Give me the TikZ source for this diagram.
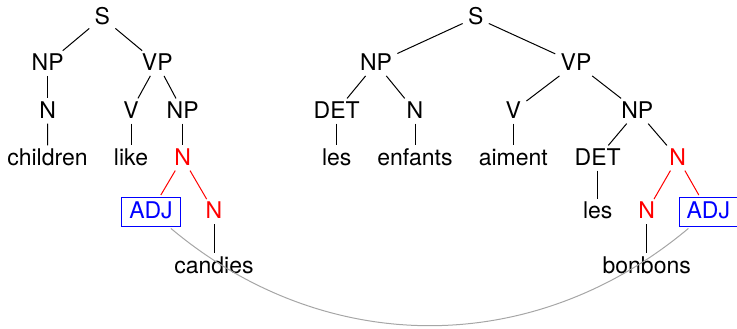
\documentclass[tikz,border=0pt]{standalone}
\usepackage{fontspec}
\setmainfont{TeX Gyre Heros}
\begin{document}
\begin{tikzpicture}[x=0.5pt,y=-0.5pt,
  every node/.style={font=\fontsize{11.5}{13}\selectfont, text height=0.72em, text depth=0pt, inner sep=2.5pt},
  hl/.style={text=red},
  adjbox/.style={draw=blue, text=blue, inner sep=3.75pt, outer sep=1pt, line width=0.5pt},
  tree/.style={line width=0.5pt},
  redtree/.style={tree, draw=red},
  link/.style={draw=black!35, line width=0.5pt}]
\useasboundingbox (0,0) rectangle (737,328);

% English tree
\node (lS)    at (102.3,17.5) {S};
\node (lNP)   at (47.7,63.3)  {NP};
\node (lVP)   at (157.3,63.3) {VP};
\node (lN)    at (47.7,111)   {N};
\node (lV)    at (131,111)    {V};
\node (lNP2)  at (182.7,111)  {NP};
\node (lchildren) at (47.5,158) {children};
\node (llike) at (131,158)    {like};
\node[hl] (lN2) at (182.7,158) {N};
\node[adjbox] (lADJ) at (151,211.7) {ADJ};
\node[hl] (lN3) at (214,211.7) {N};
\node (lcandies) at (214,266) {candies};

\draw[tree] (lS) -- (lNP);
\draw[tree] (lS) -- (lVP);
\draw[tree] (lNP) -- (lN);
\draw[tree] (lN) -- (lchildren);
\draw[tree] (lVP) -- (lV);
\draw[tree] (lVP) -- (lNP2);
\draw[tree] (lV) -- (llike);
\draw[tree] (lNP2) -- (lN2);
\draw[redtree] (lN2) -- (lADJ);
\draw[redtree] (lN2) -- (lN3);
\draw[tree] (lN3) -- (lcandies);

% French tree
\node (rS)    at (475.7,17.5) {S};
\node (rNP)   at (376,63.3)   {NP};
\node (rVP)   at (576,63.3)   {VP};
\node (rDET)  at (336.7,111)  {DET};
\node (rN)    at (415,111)    {N};
\node (rV)    at (513.3,111)  {V};
\node (rNP2)  at (637.3,111)  {NP};
\node (rles)  at (336.7,158)  {les};
\node (renfants) at (415,158) {enfants};
\node (raiment) at (513.3,158) {aiment};
\node (rDET2) at (597.7,158)  {DET};
\node[hl] (rN2) at (677.7,158) {N};
\node (rles2) at (597.7,211.7) {les};
\node[hl] (rN3) at (646.7,211.7) {N};
\node[adjbox] (rADJ) at (708.3,211.7) {ADJ};
\node (rbonbons) at (646.7,266) {bonbons};

\draw[tree] (rS) -- (rNP);
\draw[tree] (rS) -- (rVP);
\draw[tree] (rNP) -- (rDET);
\draw[tree] (rNP) -- (rN);
\draw[tree] (rDET) -- (rles);
\draw[tree] (rN) -- (renfants);
\draw[tree] (rVP) -- (rV);
\draw[tree] (rVP) -- (rNP2);
\draw[tree] (rV) -- (raiment);
\draw[tree] (rNP2) -- (rDET2);
\draw[tree] (rNP2) -- (rN2);
\draw[tree] (rDET2) -- (rles2);
\draw[redtree] (rN2) -- (rN3);
\draw[redtree] (rN2) -- (rADJ);
\draw[tree] (rN3) -- (rbonbons);

% alignment link between the adjectives
\draw[link] (lADJ) to[out=-40,in=-140] (rADJ);
\end{tikzpicture}
\end{document}
